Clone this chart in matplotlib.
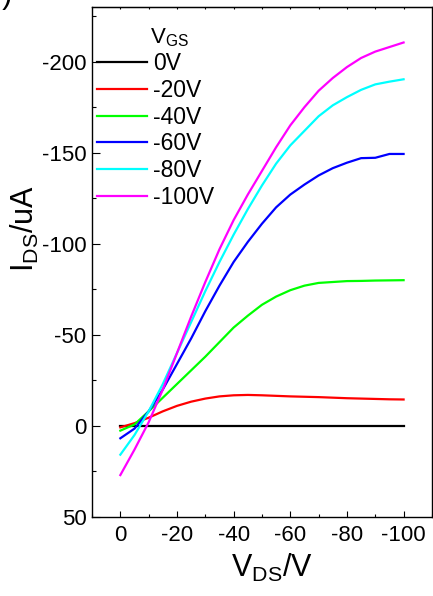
import numpy as np
import matplotlib
matplotlib.use('Agg')
import matplotlib.pyplot as plt
from matplotlib.ticker import MultipleLocator

plt.rcParams['font.family'] = ['Liberation Sans', 'DejaVu Sans']
plt.rcParams['mathtext.fontset'] = 'custom'
plt.rcParams['mathtext.rm'] = 'Liberation Sans'
plt.rcParams['mathtext.it'] = 'Liberation Sans'

# drain voltage sweep (V)
vds = [0, -5, -10, -15, -20, -25, -30, -35, -40, -45, -50,
       -55, -60, -65, -70, -75, -80, -85, -90, -95, -100]

# drain current (uA) for each gate voltage
ids_0 = [0] * 21
ids_20 = [0.8, -1.5, -4.5, -8, -11, -13.3, -15, -16.2, -16.8, -17, -16.8,
          -16.5, -16.2, -16, -15.8, -15.5, -15.2, -15, -14.8, -14.6, -14.5]
ids_40 = [2.6, -0.8, -8, -15.5, -23, -30.5, -38, -46, -54, -60.5, -66.5,
          -71, -74.5, -77, -78.5, -79, -79.5, -79.6, -79.8, -79.9, -80]
ids_60 = [6.8, 1.5, -8, -20, -34, -48, -63, -77, -90, -101, -111,
          -120, -127, -132.5, -137.5, -141.5, -144.5, -147, -147.2, -149.3, -149.3]
ids_80 = [15.8, 5, -8, -23, -40, -57, -74, -90, -105, -119, -132,
          -144, -154, -162, -170, -176, -180.5, -184.5, -187.5, -189, -190.3]
ids_100 = [27, 13, -2, -20, -40, -60, -79, -97, -113, -127, -140,
           -153, -165, -175, -184, -191, -197, -202, -205.5, -208, -210.5]

labels = ['0V', '-20V', '-40V', '-60V', '-80V', '-100V']
colors = ['black', '#ff0000', '#00ff00', '#0000ff', '#00ffff', '#ff00ff']
series = [ids_0, ids_20, ids_40, ids_60, ids_80, ids_100]

fig = plt.figure(figsize=(4.33, 5.96), dpi=100)
ax = fig.add_axes([0.2125, 0.1326, 0.785, 0.8557])

for ids, c, lab in zip(series, colors, labels):
    ax.plot(vds, ids, color=c, lw=1.6, label=lab)

ax.set_xlim(10, -110)
ax.set_ylim(50, -230)
ax.set_xticks([0, -20, -40, -60, -80, -100])
ax.set_xticklabels(['0', '-20', '-40', '-60', '-80', '-100'])
ax.xaxis.set_minor_locator(MultipleLocator(10))
ax.set_yticks([50, 0, -50, -100, -150, -200])
ax.set_yticklabels(['50', '0', '-50', '-100', '-150', '-200'])
ax.yaxis.set_minor_locator(MultipleLocator(25))

ax.tick_params(axis='both', which='both', direction='in', labelsize=16, width=0.8)
ax.tick_params(axis='y', which='major', length=6, pad=4)
ax.tick_params(axis='y', which='minor', length=3)
ax.tick_params(axis='x', which='major', length=4.5, pad=6)
ax.tick_params(axis='x', which='minor', length=2.5)
for s in ax.spines.values():
    s.set_linewidth(1.0)

top = ax.secondary_xaxis('top')
top.set_xticks(list(range(0, -101, -10)))
top.tick_params(direction='in', length=1.5, width=0.8, labeltop=False)

ax.set_xlabel('V$_{\\mathrm{DS}}$/V', fontsize=22)
ax.xaxis.set_label_coords(0.53, -0.068)
ax.set_ylabel('I$_{\\mathrm{DS}}$/uA', fontsize=22)
ax.yaxis.set_label_coords(-0.15, 0.565)

leg = ax.legend(loc='upper left', bbox_to_anchor=(0.014, 0.911), frameon=False,
                fontsize=16.5, handlelength=2.2, handletextpad=0.26,
                labelspacing=0.16, borderpad=0, borderaxespad=0)
ax.text(0.17, 0.94, 'V$_{\\mathrm{GS}}$', transform=ax.transAxes,
        fontsize=16, ha='left', va='center')

fig.text(0.028, 0.983, '(b)', fontsize=22, ha='right', va='bottom')

fig.savefig('out.png', dpi=100)
